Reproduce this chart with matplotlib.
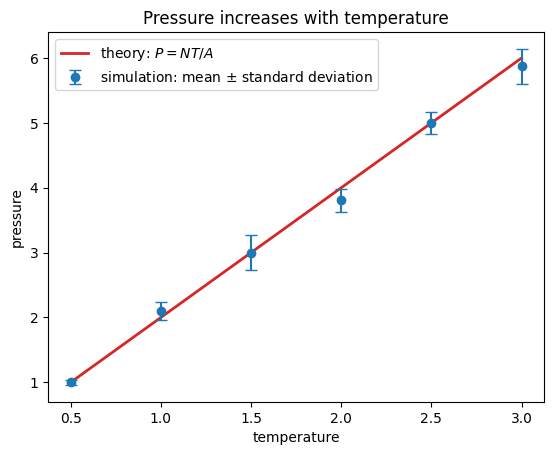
import matplotlib
matplotlib.use("Agg")
import matplotlib.pyplot as plt
import numpy as np

temperature = [0.5, 1.0, 1.5, 2.0, 2.5, 3.0]
pressure_mean = [1.00, 2.10, 3.00, 3.81, 5.00, 5.87]
pressure_std = [0.04, 0.145, 0.265, 0.177, 0.165, 0.27]
theory_T = [0.5, 3.0]
theory_P = [1.0, 6.0]

fig, ax = plt.subplots(figsize=(6.4, 4.8), dpi=100)
ax.plot(theory_T, theory_P, color="#d62728", lw=2, label=r"theory: $P = NT/A$")
ax.errorbar(temperature, pressure_mean, yerr=pressure_std, fmt="o", capsize=4,
            label=r"simulation: mean $\pm$ standard deviation")
ax.set_xlabel("temperature")
ax.set_ylabel("pressure")
ax.set_title("Pressure increases with temperature")
ax.legend()
fig.savefig("out.png", bbox_inches="tight")
